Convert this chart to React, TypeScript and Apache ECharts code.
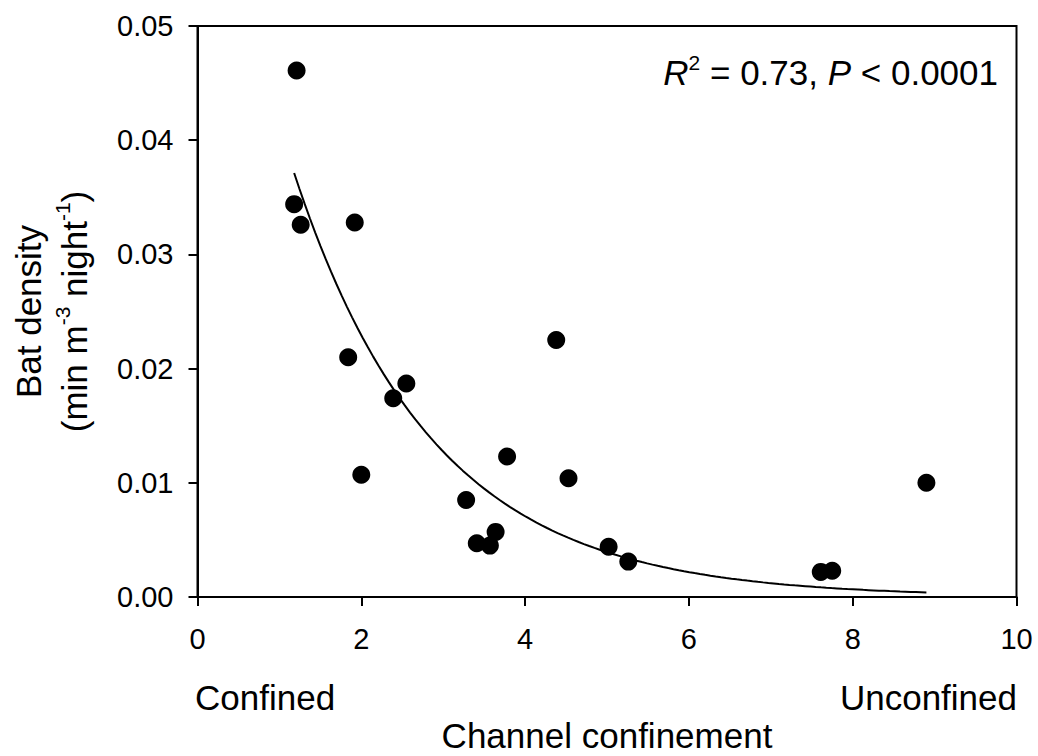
import { useEffect, useRef } from "react";
import * as echarts from "echarts";

// Channel confinement index vs. bat activity density at each site
const confinement = [
  1.21, 1.18, 1.26, 1.92, 1.84, 2.55, 2.39, 2.0, 4.38, 3.78,
  4.53, 3.28, 3.41, 3.57, 3.64, 5.02, 5.26, 7.61, 7.75, 8.9,
];
const batDensity = [
  0.0461, 0.0344, 0.0326, 0.0328, 0.021, 0.0187, 0.0174, 0.0107, 0.0225, 0.0123,
  0.0104, 0.0085, 0.0047, 0.0045, 0.0057, 0.0044, 0.0031, 0.0022, 0.0023, 0.01,
];

// Axis ranges and tick spacing
const xRange = [0, 10];
const xStep = 2;
const yRange = [0, 0.05];
const yStep = 0.01;

// Exponential decay fit: y = a * exp(-b * x)
const fitA = 0.0743;
const fitB = 0.588;
const fitLabel = { r2: "0.73", p: "0.0001" };

const FONT = "'Liberation Sans', Arial, Helvetica, sans-serif";

export default function App() {
  const ref = useRef<HTMLDivElement>(null);

  useEffect(() => {
    document.body.style.margin = "0";
    if (!ref.current) return;
    const chart = echarts.init(ref.current, undefined, { renderer: "svg" });

    const points = confinement.map((x, i) => [x, batDensity[i]]);
    const xMin = Math.min(...confinement);
    const xMax = Math.max(...confinement);
    const curve: number[][] = [];
    const steps = 120;
    for (let i = 0; i <= steps; i++) {
      const x = xMin + ((xMax - xMin) * i) / steps;
      curve.push([x, fitA * Math.exp(-fitB * x)]);
    }

    chart.setOption({
      animation: false,
      backgroundColor: "#ffffff",
      textStyle: { fontFamily: FONT, color: "#000" },
      grid: {
        left: 197.5,
        right: 21.5,
        top: 26,
        bottom: 159,
        containLabel: false,
        outerBoundsMode: "none",
        show: true,
        borderColor: "#000",
        borderWidth: 2,
        backgroundColor: "transparent",
      },
      xAxis: {
        type: "value",
        min: xRange[0],
        max: xRange[1],
        interval: xStep,
        splitLine: { show: false },
        axisLine: { show: true, onZero: false, lineStyle: { color: "#000", width: 2 } },
        axisTick: { show: true, inside: false, length: 9, lineStyle: { color: "#000", width: 2 } },
        axisLabel: {
          margin: 27,
          fontSize: 29,
          color: "#000",
          fontFamily: FONT,
          formatter: (v: number) => String(v),
        },
        name: "Channel confinement",
        nameLocation: "middle",
        nameGap: 121,
        nameTextStyle: { fontSize: 35, color: "#000", fontFamily: FONT },
      },
      yAxis: {
        type: "value",
        min: yRange[0],
        max: yRange[1],
        interval: yStep,
        splitLine: { show: false },
        axisLine: { show: true, onZero: false, lineStyle: { color: "#000", width: 2 } },
        axisTick: { show: true, inside: false, length: 9, lineStyle: { color: "#000", width: 2 } },
        axisLabel: {
          margin: 24,
          fontSize: 29,
          color: "#000",
          fontFamily: FONT,
          formatter: (v: number) => v.toFixed(2),
        },
        name: "{t|Bat density}\n{t|(min m}{s|-3}{t| night}{s|-1}{t|)}",
        nameLocation: "middle",
        nameRotate: 90,
        nameGap: 100,
        nameTextStyle: {
          color: "#000",
          fontFamily: FONT,
          rich: {
            t: { fontSize: 35, lineHeight: 46, fontFamily: FONT, color: "#000" },
            s: {
              fontSize: 21,
              lineHeight: 46,
              verticalAlign: "top",
              padding: [0, 0, 18, 0],
              fontFamily: FONT,
              color: "#000",
            },
          },
        },
      },
      graphic: [
        {
          type: "text",
          left: 195,
          top: 680,
          style: { text: "Confined", fontSize: 35, fontFamily: FONT, fill: "#000" },
        },
        {
          type: "text",
          right: 21,
          top: 680,
          style: { text: "Unconfined", fontSize: 35, fontFamily: FONT, fill: "#000" },
        },
        {
          type: "text",
          right: 40,
          top: 52,
          style: {
            text: `{i|R}{s|2}{n| = ${fitLabel.r2}, }{i|P}{n| < ${fitLabel.p}}`,
            fontFamily: FONT,
            fill: "#000",
            rich: {
              i: { fontSize: 35, fontStyle: "italic", fontFamily: FONT, fill: "#000", lineHeight: 40 },
              n: { fontSize: 35, fontFamily: FONT, fill: "#000", lineHeight: 40 },
              s: { fontSize: 21, fontFamily: FONT, fill: "#000", verticalAlign: "top", lineHeight: 40, padding: [0, 0, 12, 0] },
            },
          },
        },
      ],
      series: [
        {
          type: "line",
          data: curve,
          showSymbol: false,
          smooth: false,
          lineStyle: { color: "#000", width: 2 },
          z: 2,
        },
        {
          type: "scatter",
          data: points,
          symbol: "circle",
          symbolSize: 18,
          itemStyle: { color: "#000", opacity: 1 },
          z: 3,
        },
      ],
    });

    return () => chart.dispose();
  }, []);

  return <div ref={ref} style={{ width: 1038, height: 756 }} />;
}
